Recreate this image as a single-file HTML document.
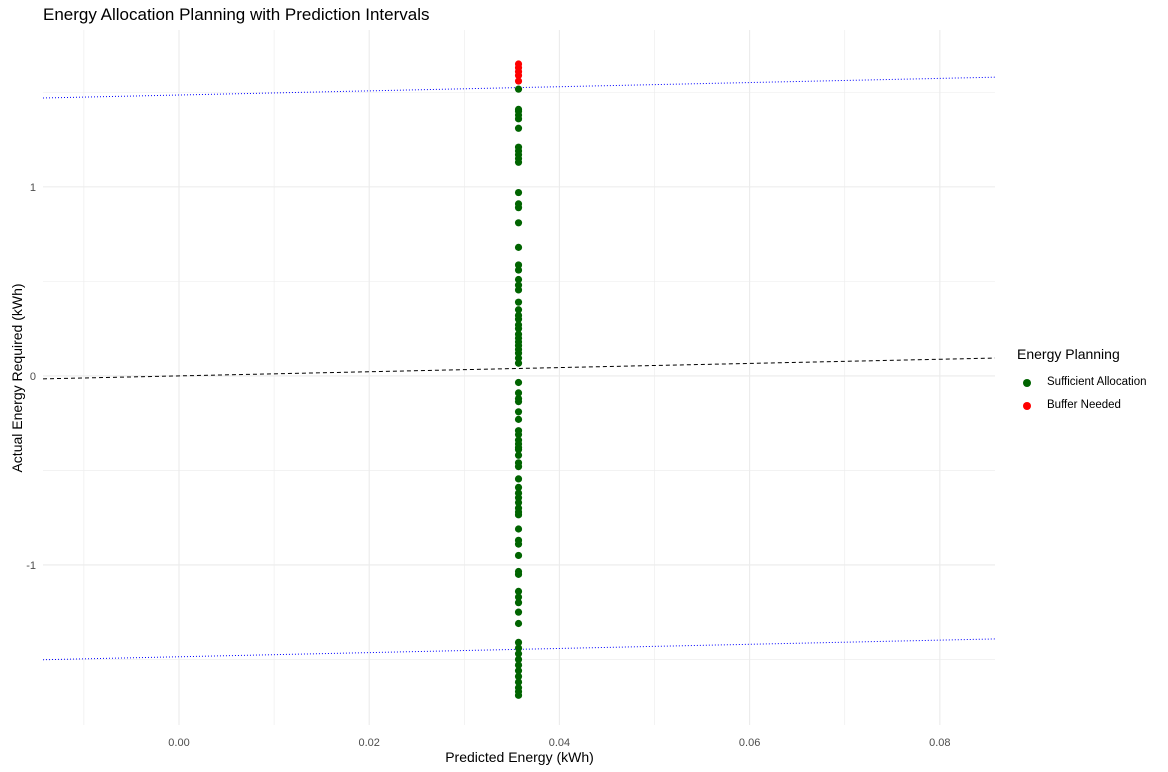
<!DOCTYPE html>
<html><head><meta charset="utf-8"><style>
body{margin:0;background:#fff;}
svg{display:block;font-family:"Liberation Sans",Arial,sans-serif;}
</style></head><body>
<svg id="chart" width="1168" height="772"></svg>
<script>
const predX = 0.0357;
const actualValues = [1.65,1.63,1.61,1.59,1.56,1.517,1.41,1.40,1.38,1.36,1.31,1.21,1.19,1.17,1.15,1.13,0.97,0.91,0.89,0.81,0.68,0.587,0.56,0.51,0.48,0.455,0.39,0.35,0.32,0.30,0.27,0.25,0.22,0.20,0.18,0.16,0.14,0.12,0.094,0.067,-0.035,-0.09,-0.12,-0.136,-0.19,-0.23,-0.29,-0.31,-0.34,-0.36,-0.38,-0.39,-0.42,-0.46,-0.48,-0.545,-0.59,-0.62,-0.645,-0.67,-0.70,-0.72,-0.735,-0.81,-0.87,-0.89,-0.95,-1.035,-1.05,-1.14,-1.17,-1.20,-1.25,-1.31,-1.41,-1.44,-1.47,-1.50,-1.53,-1.56,-1.59,-1.62,-1.65,-1.67,-1.69];
const fitSlope = 1.1;
const intervalHalfWidth = 1.486;
const xTicks = [0,0.02,0.04,0.06,0.08];
const xTickLabels = ["0.00","0.02","0.04","0.06","0.08"];
const yTicks = [-1,0,1];
const yTickLabels = ["-1","0","1"];
const xDomain = [-0.0143,0.0858];
const yDomain = [-1.847,1.83];

const L=43,R=995,T=30,B=725;
const sx=v=>L+(v-xDomain[0])/(xDomain[1]-xDomain[0])*(R-L);
const sy=v=>B-(v-yDomain[0])/(yDomain[1]-yDomain[0])*(B-T);
const svg=document.getElementById('chart');
const NS='http://www.w3.org/2000/svg';
function mk(tag,attrs,parent){const e=document.createElementNS(NS,tag);for(const k in attrs)e.setAttribute(k,attrs[k]);(parent||svg).appendChild(e);return e;}

const grid=mk('g',{});


for(let v=-0.01;v<=0.0851;v+=0.01){const x=sx(v);mk('line',{x1:x,x2:x,y1:T,y2:B,stroke:'#ebebeb','stroke-width':Math.abs(Math.round(v*100))%2===0?1.1:0.6},grid);}
for(let v=-1.5;v<=1.51;v+=0.5){const y=sy(v);mk('line',{x1:L,x2:R,y1:y,y2:y,stroke:'#ebebeb','stroke-width':Math.abs(v%1)<1e-9?1.1:0.6},grid);}

const lines=mk('g',{});


const x0=xDomain[0],x1=xDomain[1];
const up=mk('line',{x1:sx(x0),x2:sx(x1),y1:sy(fitSlope*x0+intervalHalfWidth),y2:sy(fitSlope*x1+intervalHalfWidth),stroke:'#0000ff','stroke-width':1,'stroke-dasharray':'1 2'},lines);


const lo=mk('line',{x1:sx(x0),x2:sx(x1),y1:sy(fitSlope*x0-intervalHalfWidth),y2:sy(fitSlope*x1-intervalHalfWidth),stroke:'#0000ff','stroke-width':1,'stroke-dasharray':'1 2'},lines);


const fit=mk('line',{x1:sx(x0),x2:sx(x1),y1:sy(fitSlope*x0),y2:sy(fitSlope*x1),stroke:'#000','stroke-width':1,'stroke-dasharray':'4 3'},lines);



const pts=mk('g',{});


actualValues.forEach(v=>{
  const upper=fitSlope*predX+intervalHalfWidth;
  const c=mk('circle',{cx:sx(predX),cy:sy(v),r:3.6,fill:(v>upper)?'#ff0000':'#006400'},pts);
  
  
});

xTicks.forEach((v,i)=>{const t=mk('text',{x:sx(v),y:746,'text-anchor':'middle','font-size':11,fill:'#4d4d4d'});t.textContent=xTickLabels[i];

});
yTicks.forEach((v,i)=>{const t=mk('text',{x:36,y:sy(v)+4,'text-anchor':'end','font-size':11,fill:'#4d4d4d'});t.textContent=yTickLabels[i];

});
</script>
<div style="position:absolute;left:0;top:0;width:1168px;height:772px;pointer-events:none;font-family:'Liberation Sans',Arial,sans-serif;">
<div style="position:absolute;left:43px;top:5px;font-size:17px;color:#000;">Energy Allocation Planning with Prediction Intervals</div>
<div style="position:absolute;left:0;width:1039px;text-align:center;top:749px;font-size:14px;color:#000;">Predicted Energy (kWh)</div>
<div style="position:absolute;left:17px;top:378px;font-size:14px;color:#000;transform:translate(-50%,-50%) rotate(-90deg);white-space:nowrap;">Actual Energy Required (kWh)</div>
<div style="position:absolute;left:1017px;top:346px;">
<div style="font-size:14px;color:#000;">Energy Planning</div>
<div style="position:absolute;top:30px;left:0;white-space:nowrap;font-size:11.5px;"><span style="position:absolute;left:6px;top:3px;width:8px;height:8px;border-radius:50%;background:#006400"></span><span style="position:absolute;left:30px;top:0;">Sufficient Allocation</span></div>
<div style="position:absolute;top:53px;left:0;white-space:nowrap;font-size:11.5px;"><span style="position:absolute;left:6px;top:3px;width:8px;height:8px;border-radius:50%;background:#ff0000"></span><span style="position:absolute;left:30px;top:0;">Buffer Needed</span></div>
</div>
</div>
</body></html>
